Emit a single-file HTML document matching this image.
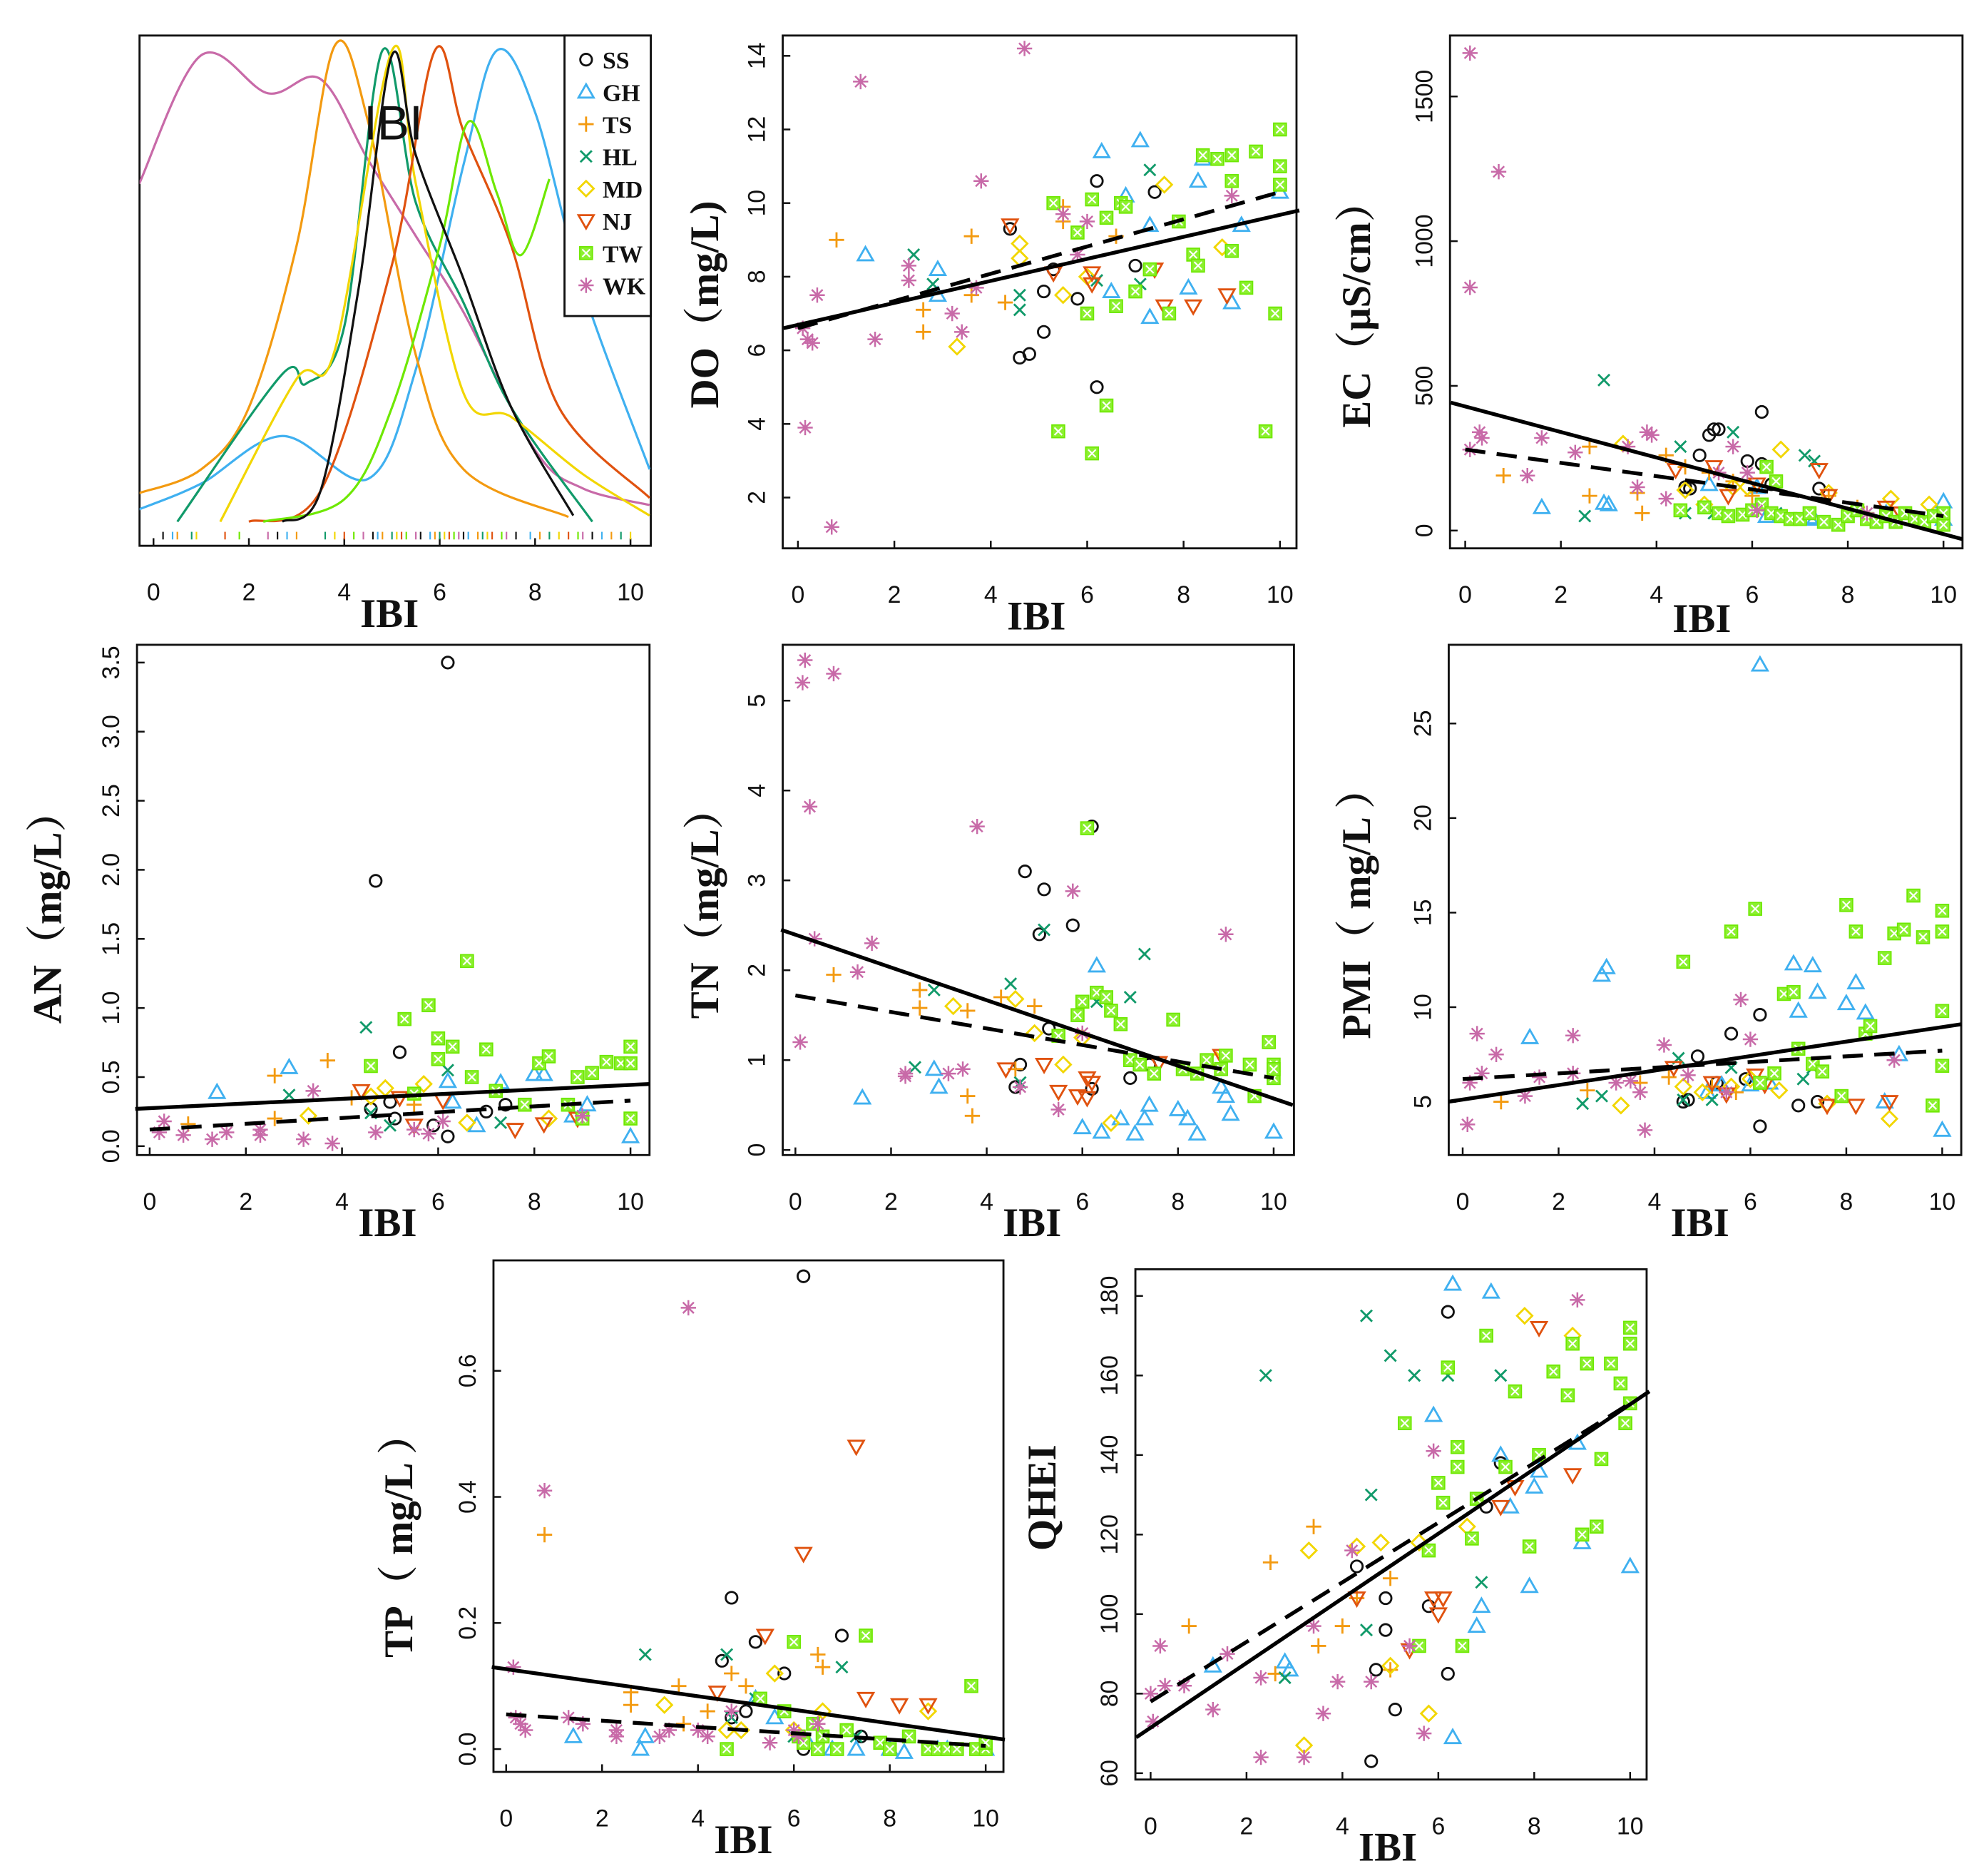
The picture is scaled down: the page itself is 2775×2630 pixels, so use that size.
<!DOCTYPE html>
<html><head><meta charset="utf-8"><style>
html,body{margin:0;padding:0;background:#fff;}
svg{display:block;}
.tk{font-family:"Liberation Sans",sans-serif;font-size:19px;fill:#111;}
.ti{font-family:"Liberation Serif","Noto Serif CJK SC",serif;font-weight:bold;font-size:32px;fill:#111;}
.lg{font-family:"Liberation Serif",serif;font-weight:bold;font-size:19px;fill:#111;}
</style></head><body>
<svg id="root" width="2775" height="2630" viewBox="0 0 1560 1478" preserveAspectRatio="none" xmlns="http://www.w3.org/2000/svg"></svg>
<script>
// ---------- data ----------
const groups = ['SS','GH','TS','HL','MD','NJ','TW','WK'];
const groupColors = ['#111111','#3fb0f0','#f39a10','#119a6a','#f2d600','#e0520f','#6ee800','#c86aa8'];
// density curves: [IBI, density 0..1]
const densSS = [[2.7,0],[3.5,0.064],[4.3,0.49],[5.0,0.98],[5.5,0.77],[6.5,0.51],[7.5,0.24],[8.8,0.013]];
const densGH = [[-0.3,0.026],[1,0.08],[2.7,0.18],[4.5,0.09],[5.5,0.32],[6.5,0.75],[7.2,0.99],[8,0.86],[9,0.49],[10.4,0.11]];
const densTS = [[-0.3,0.06],[1,0.11],[2,0.24],[3,0.58],[3.8,1.0],[4.5,0.84],[5.5,0.35],[6.5,0.11],[8.7,0.01]];
const densHL = [[0.5,0],[2.7,0.31],[3.2,0.29],[4,0.41],[4.8,0.99],[5.5,0.67],[6.5,0.46],[7.5,0.24],[9.2,0]];
const densMD = [[1.4,0],[3,0.30],[3.8,0.36],[5,0.99],[5.5,0.71],[6.5,0.27],[7.5,0.22],[9,0.10],[10.4,0.013]];
const densNJ = [[2,0],[3.5,0.064],[5,0.54],[5.9,0.99],[6.5,0.82],[7.5,0.58],[8.5,0.24],[10.4,0.05]];
const densTW = [[2.3,0],[4,0.047],[5,0.24],[6,0.58],[6.6,0.84],[7.2,0.69],[7.7,0.56],[8.3,0.72]];
const densWK = [[-0.3,0.71],[1,0.98],[2.4,0.90],[3.5,0.93],[4.5,0.76],[5.5,0.60],[6.5,0.44],[8,0.15],[9,0.07],[10.4,0.035]];
const rugX = [0.2,0.4,0.5,0.8,0.9,1.5,1.8,2.4,2.6,2.8,3.0,3.6,3.8,4.0,4.2,4.4,4.6,4.7,4.8,5.0,5.1,5.2,5.3,5.5,5.6,5.8,5.9,6.0,6.1,6.2,6.3,6.4,6.5,6.6,6.8,6.9,7.0,7.1,7.3,7.4,7.6,7.9,8.1,8.3,8.5,8.7,8.9,9.0,9.2,9.4,9.6,9.8,10];
const xTicks = [0,2,4,6,8,10];

// scatter data: [IBI, value]
const DO_SS=[[4.4,9.3],[4.6,5.8],[4.8,5.9],[5.1,7.6],[5.1,6.5],[5.3,8.2],[5.8,7.4],[6.2,10.6],[6.2,5.0],[7.0,8.3],[7.4,10.3]];
const DO_GH=[[1.4,8.6],[2.9,7.5],[2.9,8.2],[6.3,11.4],[6.8,10.2],[7.1,11.7],[7.3,9.4],[7.3,6.9],[8.1,7.7],[8.3,10.6],[8.4,11.2],[9.0,7.3],[9.2,9.4],[10,10.3],[6.5,7.6]];
const DO_TS=[[0.8,9.0],[2.6,6.5],[2.6,7.1],[3.6,9.1],[3.6,7.5],[4.3,7.3],[5.5,9.5],[5.5,9.9],[6.6,9.1]];
const DO_HL=[[2.4,8.6],[2.8,7.8],[4.6,7.5],[4.6,7.1],[6.2,7.9],[7.3,10.9],[6.8,9.9],[7.1,7.8]];
const DO_MD=[[3.3,6.1],[4.6,8.9],[4.6,8.5],[5.5,7.5],[6.0,8.0],[7.6,10.5],[8.8,8.8]];
const DO_NJ=[[4.4,9.4],[5.3,8.1],[6.1,7.8],[7.4,8.2],[7.6,7.2],[8.2,7.2],[8.9,7.5],[6.1,8.1]];
const DO_TW=[[5.3,10.0],[5.8,9.2],[6.0,7.0],[6.1,10.1],[6.4,9.6],[6.7,10.0],[6.8,9.9],[7.0,7.6],[7.3,8.2],[7.7,7.0],[7.9,9.5],[8.2,8.6],[8.3,8.3],[8.4,11.3],[8.7,11.2],[9.0,11.3],[9.0,8.7],[9.3,7.7],[9.5,11.4],[9.7,3.8],[9.9,7.0],[10,11.0],[10,12.0],[10,10.5],[5.4,3.8],[6.1,3.2],[6.4,4.5],[6.6,7.2],[9.0,10.6]];
const DO_WK=[[0.1,6.6],[0.15,3.9],[0.2,6.3],[0.3,6.2],[0.4,7.5],[0.7,1.2],[1.3,13.3],[1.6,6.3],[2.3,8.3],[2.3,7.9],[3.2,7.0],[3.4,6.5],[3.8,10.6],[4.7,14.2],[5.5,9.7],[5.8,8.6],[6.0,9.5],[9.0,10.2],[3.7,7.7]];
const DO_fit=[[-0.3,6.6],[10.4,9.8]], DO_fit2=[[0,6.6],[10,10.3]];

const EC_SS=[[4.6,150],[4.7,145],[4.9,260],[5.1,330],[5.2,350],[5.3,350],[5.9,240],[6.2,230],[6.2,410],[6.4,160],[7.4,145]];
const EC_GH=[[1.6,80],[2.9,95],[3.0,90],[5.1,160],[6.1,150],[6.3,50],[7.2,45],[7.3,40],[8.8,60],[10,100],[10,40]];
const EC_TS=[[0.8,190],[2.6,120],[2.6,290],[3.6,130],[3.7,60],[4.2,260],[4.6,220],[5.1,200],[5.6,170],[6.0,120],[7.6,120],[8.2,80]];
const EC_HL=[[2.5,50],[2.9,520],[4.5,290],[4.6,60],[5.2,60],[5.6,340],[7.1,260],[7.3,240],[6.5,60]];
const EC_MD=[[3.3,300],[4.6,140],[5.0,90],[5.6,150],[5.9,150],[6.6,280],[7.6,130],[8.9,110],[9.7,90]];
const EC_NJ=[[4.4,210],[5.2,220],[5.5,120],[6.1,160],[7.4,210],[7.6,120],[8.8,80],[9.1,60]];
const EC_TW=[[4.5,70],[5.0,80],[5.3,60],[5.5,50],[5.8,55],[6.0,70],[6.2,90],[6.4,60],[6.6,50],[6.8,40],[7.0,40],[7.2,60],[7.5,30],[7.8,20],[8.0,50],[8.2,70],[8.4,40],[8.6,30],[8.8,50],[9.0,30],[9.2,60],[9.4,40],[9.6,30],[9.8,50],[10,20],[10,60],[6.3,220],[6.5,170]];
const EC_WK=[[0.1,1650],[0.1,840],[0.1,280],[0.3,340],[0.35,320],[0.7,1240],[1.3,190],[1.6,320],[2.3,270],[3.4,290],[3.6,150],[3.8,340],[3.9,330],[4.2,110],[5.3,200],[5.6,290],[5.9,200],[6.1,70],[8.4,60]];
const EC_fit=[[-0.3,442],[10.4,-30]], EC_fit2=[[0,280],[10,50]];

const AN_SS=[[4.6,0.27],[4.7,1.92],[5.0,0.32],[5.1,0.2],[5.2,0.68],[5.9,0.15],[6.2,3.5],[6.2,0.07],[7.0,0.25],[7.4,0.3]];
const AN_GH=[[1.4,0.39],[2.9,0.57],[6.2,0.47],[6.8,0.15],[7.3,0.46],[8.0,0.52],[8.2,0.52],[8.8,0.22],[9.1,0.3],[10,0.07],[6.3,0.32]];
const AN_TS=[[0.8,0.16],[2.6,0.51],[2.6,0.2],[3.7,0.62],[4.2,0.35],[5.5,0.3]];
const AN_HL=[[2.9,0.37],[4.5,0.86],[4.6,0.24],[5.0,0.15],[6.2,0.55],[7.3,0.17]];
const AN_MD=[[3.3,0.22],[4.6,0.36],[4.9,0.42],[5.7,0.45],[6.6,0.17],[8.3,0.2]];
const AN_NJ=[[4.4,0.4],[5.2,0.35],[5.5,0.15],[6.1,0.33],[7.6,0.12],[8.2,0.16],[8.9,0.2]];
const AN_TW=[[4.6,0.58],[5.3,0.92],[5.8,1.02],[6.0,0.78],[6.0,0.63],[6.3,0.72],[6.6,1.34],[6.7,0.5],[7.0,0.7],[7.2,0.4],[7.8,0.3],[8.1,0.6],[8.3,0.65],[8.7,0.3],[8.9,0.5],[9.0,0.2],[9.2,0.53],[9.5,0.61],[9.8,0.6],[10,0.72],[10,0.2],[10,0.6],[5.5,0.38]];
const AN_WK=[[0.2,0.1],[0.3,0.18],[0.7,0.08],[1.3,0.05],[1.6,0.1],[2.3,0.12],[2.3,0.08],[3.2,0.05],[3.4,0.4],[3.8,0.02],[4.7,0.1],[5.5,0.12],[5.8,0.09],[6.1,0.18],[9.0,0.22]];
const AN_fit=[[-0.3,0.27],[10.4,0.45]], AN_fit2=[[0,0.12],[10,0.33]];

const TN_SS=[[4.6,0.7],[4.7,0.95],[4.8,3.1],[5.1,2.4],[5.2,2.9],[5.3,1.35],[5.8,2.5],[6.2,3.6],[6.2,0.68],[7.0,0.8],[7.4,0.95]];
const TN_GH=[[1.4,0.58],[2.9,0.9],[3.0,0.7],[6.0,0.25],[6.3,2.05],[6.4,0.2],[6.8,0.35],[7.1,0.18],[7.3,0.35],[7.4,0.5],[8.0,0.45],[8.2,0.35],[8.4,0.18],[8.9,0.7],[9.1,0.4],[10,0.2],[9.0,0.6]];
const TN_TS=[[0.8,1.95],[2.6,1.78],[2.6,1.58],[3.6,1.55],[3.6,0.6],[3.7,0.38],[4.3,1.7],[5.0,1.6],[4.6,0.9]];
const TN_HL=[[2.5,0.92],[2.9,1.78],[4.5,1.85],[4.7,0.75],[5.2,2.45],[6.3,1.65],[7.0,1.7],[7.3,2.18]];
const TN_MD=[[3.3,1.6],[4.6,1.68],[5.0,1.3],[5.6,0.95],[6.0,1.25],[6.6,0.3],[8.8,1.0]];
const TN_NJ=[[4.4,0.9],[5.2,0.95],[5.5,0.65],[5.9,0.6],[6.1,0.8],[6.1,0.58],[7.6,0.97],[8.9,1.05],[6.2,0.75]];
const TN_TW=[[5.5,1.27],[5.9,1.5],[6.0,1.65],[6.1,3.58],[6.3,1.75],[6.5,1.7],[6.6,1.55],[6.8,1.4],[7.0,1.0],[7.2,0.95],[7.5,0.85],[7.9,1.45],[8.1,0.9],[8.4,0.85],[8.6,1.0],[8.9,0.9],[9.0,1.05],[9.5,0.95],[9.6,0.6],[9.9,1.2],[10,0.8],[10,0.95],[10,0.9]];
const TN_WK=[[0.1,1.2],[0.15,5.2],[0.2,5.45],[0.3,3.82],[0.4,2.35],[0.8,5.3],[1.3,1.98],[1.6,2.3],[2.3,0.85],[2.3,0.82],[3.2,0.85],[3.5,0.9],[3.8,3.6],[4.7,0.7],[5.5,0.45],[5.8,2.88],[6.0,1.3],[9.0,2.4]];
const TN_fit=[[-0.3,2.45],[10.4,0.5]], TN_fit2=[[0,1.72],[10,0.8]];

const PMI_SS=[[4.6,5.0],[4.7,5.1],[4.9,7.4],[5.3,6.0],[5.6,8.6],[5.9,6.2],[6.2,9.6],[6.2,3.7],[7.0,4.8],[7.4,5.0]];
const PMI_GH=[[1.4,8.4],[2.9,11.7],[3.0,12.1],[5.1,5.5],[5.4,5.9],[6.0,5.9],[6.9,12.3],[7.0,9.8],[7.3,12.2],[7.4,10.8],[8.0,10.2],[8.2,11.3],[8.4,9.7],[8.8,5.0],[9.1,7.5],[10,3.5],[6.4,6.0],[6.2,28.1]];
const PMI_TS=[[0.8,5.0],[2.6,5.6],[3.7,6.0],[4.3,6.3],[5.2,5.8],[5.7,5.5],[7.4,6.7]];
const PMI_HL=[[2.5,4.9],[2.9,5.3],[4.5,7.3],[4.6,5.1],[5.2,5.1],[5.6,6.8],[7.1,6.2],[7.3,6.8]];
const PMI_MD=[[3.3,4.8],[4.6,5.8],[5.0,5.5],[5.6,5.8],[6.6,5.6],[7.6,4.9],[8.9,4.1],[6.0,6.2]];
const PMI_NJ=[[4.4,6.8],[5.2,6.0],[5.5,5.4],[6.1,6.4],[6.3,5.9],[7.6,4.8],[8.2,4.8],[8.9,5.0]];
const PMI_TW=[[4.6,12.4],[5.6,14.0],[6.1,15.2],[6.2,6.0],[6.5,6.5],[6.7,10.7],[6.9,10.8],[7.0,7.8],[7.3,7.0],[7.5,6.6],[7.9,5.3],[8.0,15.4],[8.2,14.0],[8.4,8.6],[8.5,9.0],[8.8,12.6],[9.0,13.9],[9.2,14.1],[9.4,15.9],[9.6,13.7],[9.8,4.8],[10,14.0],[10,15.1],[10,9.8],[10,6.9]];
const PMI_WK=[[0.1,3.8],[0.15,6.0],[0.3,8.6],[0.4,6.5],[0.7,7.5],[1.3,5.3],[1.6,6.3],[2.3,8.5],[2.3,6.5],[3.2,6.0],[3.5,6.1],[3.8,3.5],[4.2,8.0],[4.7,6.4],[5.5,5.5],[5.8,10.4],[6.0,8.3],[9.0,7.2],[3.7,5.5]];
const PMI_fit=[[-0.3,5.0],[10.4,9.1]], PMI_fit2=[[0,6.2],[10,7.7]];

const TP_SS=[[4.5,0.14],[4.7,0.24],[5.0,0.06],[5.2,0.17],[5.8,0.12],[6.2,0.75],[6.2,0.0],[7.0,0.18],[7.4,0.02],[4.7,0.05]];
const TP_GH=[[1.4,0.02],[2.9,0.02],[2.8,0.0],[5.2,0.08],[5.6,0.05],[6.3,0.01],[6.8,0.0],[7.3,0.0],[8.0,0.0],[8.3,-0.005],[9.0,0.0],[10,0.0],[9.2,0.0]];
const TP_TS=[[0.8,0.34],[2.6,0.09],[2.6,0.07],[3.6,0.1],[3.7,0.04],[4.2,0.06],[4.7,0.12],[5.0,0.1],[6.5,0.15],[6.6,0.13]];
const TP_HL=[[2.9,0.15],[4.6,0.15],[4.7,0.05],[5.2,0.08],[6.0,0.02],[7.0,0.13],[7.3,0.02]];
const TP_MD=[[3.3,0.07],[4.6,0.03],[4.9,0.03],[5.6,0.12],[6.0,0.03],[6.6,0.06],[8.8,0.06]];
const TP_NJ=[[4.4,0.09],[5.4,0.18],[6.2,0.31],[7.3,0.48],[7.5,0.08],[8.2,0.07],[8.8,0.07]];
const TP_TW=[[4.6,0.0],[5.3,0.08],[5.8,0.06],[6.0,0.17],[6.1,0.02],[6.2,0.01],[6.4,0.04],[6.6,0.02],[6.9,0.0],[7.1,0.03],[7.5,0.18],[7.8,0.01],[8.0,0.0],[8.4,0.02],[8.8,0.0],[9.0,0.0],[9.2,0.0],[9.4,0.0],[9.7,0.1],[9.8,0.0],[10,0.0],[10,0.01],[6.5,0.0]];
const TP_WK=[[0.15,0.13],[0.2,0.05],[0.3,0.04],[0.4,0.03],[0.8,0.41],[1.3,0.05],[1.6,0.04],[2.3,0.03],[2.3,0.02],[3.2,0.02],[3.4,0.03],[3.8,0.7],[4.0,0.03],[4.2,0.02],[4.7,0.06],[5.5,0.01],[6.0,0.03],[6.1,0.02],[6.5,0.04]];
const TP_fit=[[-0.3,0.13],[10.4,0.015]], TP_fit2=[[0,0.055],[10,0.005]];

const QH_SS=[[4.3,112],[4.6,63],[4.7,86],[4.9,104],[4.9,96],[5.1,76],[5.8,102],[6.2,85],[6.2,176],[7.0,127],[7.3,138]];
const QH_GH=[[1.3,87],[2.8,88],[2.9,86],[5.9,150],[6.3,183],[6.3,69],[6.8,97],[6.9,102],[7.1,181],[7.3,140],[7.5,127],[7.9,107],[8.0,132],[8.1,136],[8.9,143],[9.0,118],[10,112]];
const QH_TS=[[0.8,97],[2.5,113],[2.6,85],[3.4,122],[3.5,92],[4.0,97],[4.3,104],[5.0,86],[5.0,109]];
const QH_HL=[[2.4,160],[2.8,84],[4.5,175],[4.6,130],[4.5,96],[5.0,165],[5.5,160],[6.2,160],[6.9,108],[7.3,160]];
const QH_MD=[[3.2,67],[3.3,116],[4.3,117],[4.8,118],[5.0,87],[5.6,118],[5.8,75],[6.6,122],[7.8,175],[8.8,170]];
const QH_NJ=[[4.3,104],[5.4,91],[5.9,104],[6.0,100],[6.1,104],[7.3,127],[7.6,132],[8.1,172],[8.8,135]];
const QH_TW=[[5.3,148],[5.8,116],[6.0,133],[6.1,128],[6.2,162],[6.4,137],[6.4,142],[6.7,119],[6.8,129],[7.0,170],[7.4,137],[7.6,156],[7.9,117],[8.1,140],[8.4,161],[8.7,155],[8.8,168],[9.0,120],[9.1,163],[9.3,122],[9.4,139],[9.6,163],[9.8,158],[10,153],[10,168],[10,172],[9.9,148],[6.5,92],[5.6,92]];
const QH_WK=[[0.0,80],[0.05,73],[0.2,92],[0.3,82],[0.7,82],[1.3,76],[1.6,90],[2.3,84],[2.3,64],[3.2,64],[3.4,97],[3.6,75],[3.9,83],[4.2,116],[4.6,83],[5.4,92],[5.7,70],[5.9,141],[8.9,179]];
const QH_fit=[[-0.3,69],[10.4,156]], QH_fit2=[[0,78],[10,153]];

// ---------- drawing ----------
const NS='http://www.w3.org/2000/svg';
const root=document.getElementById('root');
function el(tag,attrs,parent){const e=document.createElementNS(NS,tag);for(const k in attrs)e.setAttribute(k,attrs[k]);(parent||root).appendChild(e);return e;}

function marker(g,gi,px,py,parent){
  const c=groupColors[gi];const r=5.2;let m;
  const sw=1.6;
  if(gi===0){m=el('circle',{cx:px,cy:py,r:4.6,fill:'none',stroke:c,'stroke-width':sw},parent);}
  else if(gi===1){m=el('polygon',{points:`${px},${py-6} ${px-6},${py+4.5} ${px+6},${py+4.5}`,fill:'none',stroke:c,'stroke-width':sw},parent);}
  else if(gi===2){m=el('path',{d:`M${px-6} ${py}H${px+6}M${px} ${py-6}V${py+6}`,stroke:c,'stroke-width':sw,fill:'none'},parent);}
  else if(gi===3){m=el('path',{d:`M${px-4.5} ${py-4.5}L${px+4.5} ${py+4.5}M${px+4.5} ${py-4.5}L${px-4.5} ${py+4.5}`,stroke:c,'stroke-width':sw,fill:'none'},parent);}
  else if(gi===4){m=el('polygon',{points:`${px},${py-6} ${px+6},${py} ${px},${py+6} ${px-6},${py}`,fill:'none',stroke:c,'stroke-width':sw},parent);}
  else if(gi===5){m=el('polygon',{points:`${px},${py+6} ${px-6},${py-4.5} ${px+6},${py-4.5}`,fill:'none',stroke:c,'stroke-width':sw},parent);}
  else if(gi===6){m=el('g',{},parent);
    el('rect',{x:px-5,y:py-5,width:10,height:10,fill:'#8cf030',stroke:'#6ee800','stroke-width':1},m);
    el('path',{d:`M${px-3} ${py-3}L${px+3} ${py+3}M${px+3} ${py-3}L${px-3} ${py+3}`,stroke:'#fff','stroke-width':1.2},m);}
  else {m=el('path',{d:`M${px-6} ${py}H${px+6}M${px} ${py-6}V${py+6}M${px-4.3} ${py-4.3}L${px+4.3} ${py+4.3}M${px+4.3} ${py-4.3}L${px-4.3} ${py+4.3}`,stroke:c,'stroke-width':1.4,fill:'none'},parent);}
  return m;
}

function frameAndXAxis(name,f,sx,xTitleY){
  const g=el('g',{});
  
  
  el('rect',{x:f[0],y:f[1],width:f[2]-f[0],height:f[3]-f[1],fill:'none',stroke:'#111','stroke-width':1.6},g);
  const xa=el('g',{},g);
  
  
  xTicks.forEach(t=>{
    const x=sx(t);
    el('line',{x1:x,y1:f[3],x2:x,y2:f[3]-6,stroke:'#111','stroke-width':1.4},xa);
    const tx=el('text',{x:x,y:f[3]+43,'text-anchor':'middle',class:'tk'},xa);tx.textContent=t;
  });
  const xt=el('text',{x:sx(5)-2,y:f[3]+(xTitleY||64),'text-anchor':'middle',class:'ti'},g);
  
  
  xt.textContent='IBI';
  return g;
}

function scatterPanel(p){
  const f=p.frame;
  const sx=v=>p.x0+(v)*(p.x10-p.x0)/10;
  const sy=v=>p.py0+(v-p.v0)*(p.py1-p.py0)/(p.v1-p.v0);
  const g=frameAndXAxis(p.name,f,sx,p.xTitleOff);
  const ya=el('g',{},g);
  
  
  p.yticks.forEach(t=>{
    const y=sy(t);
    el('line',{x1:f[0],y1:y,x2:f[0]+6,y2:y,stroke:'#111','stroke-width':1.4},ya);
    const tx=el('text',{x:0,y:0,'text-anchor':'middle',class:'tk',transform:`translate(${f[0]-14},${y}) rotate(-90)`},ya);
    tx.textContent=p.ytickLabels?p.ytickLabels[p.yticks.indexOf(t)]:t;
  });
  const yt=el('text',{x:0,y:0,'text-anchor':'middle',class:'ti',transform:`translate(${p.titleX},${p.titleY}) rotate(-90)`},g);
  
  
  yt.textContent=p.title;
  const pts=el('g',{},g);
  
  
  p.data.forEach((arr,gi)=>{
    arr.forEach(d=>{
      const m=marker(null,gi,sx(d[0]),sy(d[1]),pts);
      
      
    });
  });
  const l1=el('line',{x1:sx(p.fit[0][0]),y1:sy(p.fit[0][1]),x2:sx(p.fit[1][0]),y2:sy(p.fit[1][1]),stroke:'#000','stroke-width':3},g);
  
  
  const l2=el('line',{x1:sx(p.fit2[0][0]),y1:sy(p.fit2[0][1]),x2:sx(p.fit2[1][0]),y2:sy(p.fit2[1][1]),stroke:'#000','stroke-width':3,'stroke-dasharray':'16 9'},g);
  
  
}

// density panel
(function(){
  const f=[110,28,513,430];
  const sx=v=>121+v*(497-121)/10;
  const sy=v=>411-v*(411-36);
  const g=frameAndXAxis('density',f,sx,64);
  const curves=[densSS,densGH,densTS,densHL,densMD,densNJ,densTW,densWK];
  const clip=el('clipPath',{id:'dclip'});
  el('rect',{x:f[0],y:f[1],width:f[2]-f[0],height:f[3]-f[1]},clip);
  const cg=el('g',{'clip-path':'url(#dclip)'},g);
  const order=[7,1,2,3,4,5,6,0];
  order.forEach(gi=>{
    const pts=curves[gi].map(d=>[sx(d[0]),sy(d[1])]);
    let d=`M${pts[0][0]} ${pts[0][1]}`;
    for(let i=0;i<pts.length-1;i++){
      const p0=pts[Math.max(0,i-1)],p1=pts[i],p2=pts[i+1],p3=pts[Math.min(pts.length-1,i+2)];
      const c1=[p1[0]+(p2[0]-p0[0])/6,p1[1]+(p2[1]-p0[1])/6];
      const c2=[p2[0]-(p3[0]-p1[0])/6,p2[1]-(p3[1]-p1[1])/6];
      d+=` C${c1[0]} ${c1[1]} ${c2[0]} ${c2[1]} ${p2[0]} ${p2[1]}`;
    }
    const path=el('path',{d:d,fill:'none',stroke:groupColors[gi],'stroke-width':1.8},cg);
    
    
  });
  const rug=el('g',{},g);
  
  
  rugX.forEach((v,i)=>{el('line',{x1:sx(v),y1:419,x2:sx(v),y2:425,stroke:groupColors[i%8],'stroke-width':1.2},rug);});
  const ibi=el('text',{x:310,y:110,'text-anchor':'middle','font-family':'Liberation Sans, sans-serif','font-size':38,fill:'#111'},g);
  
  
  ibi.textContent='IBI';
  const lg=el('g',{},g);
  
  
  el('rect',{x:445,y:28,width:68,height:221,fill:'#fff',stroke:'#111','stroke-width':1.6},lg);
  groups.forEach((gname,gi)=>{
    const y=47+gi*25.4;
    const e=el('g',{},lg);
    
    
    marker(null,gi,462,y,e);
    const t=el('text',{x:475,y:y+7,class:'lg'},e);t.textContent=gname;
  });
})();

scatterPanel({name:'do',frame:[617,28,1022,432],x0:629,x10:1009,v0:2,v1:14,py0:392,py1:44,yticks:[2,4,6,8,10,12,14],title:'DO（mg/L)',titleX:566,titleY:240,
  data:[DO_SS,DO_GH,DO_TS,DO_HL,DO_MD,DO_NJ,DO_TW,DO_WK],fit:DO_fit,fit2:DO_fit2});
scatterPanel({name:'ec',frame:[1143,28,1547,432],x0:1155,x10:1532,v0:0,v1:1500,py0:418,py1:76,yticks:[0,500,1000,1500],title:'EC（μS/cm）',titleX:1080,titleY:240,
  data:[EC_SS,EC_GH,EC_TS,EC_HL,EC_MD,EC_NJ,EC_TW,EC_WK],fit:EC_fit,fit2:EC_fit2,xTitleOff:66});
scatterPanel({name:'an',frame:[108,508,512,910],x0:118,x10:497,v0:0,v1:3.5,py0:903,py1:522,yticks:[0,0.5,1,1.5,2,2.5,3,3.5],ytickLabels:['0.0','0.5','1.0','1.5','2.0','2.5','3.0','3.5'],title:'AN（mg/L）',titleX:48,titleY:715,
  data:[AN_SS,AN_GH,AN_TS,AN_HL,AN_MD,AN_NJ,AN_TW,AN_WK],fit:AN_fit,fit2:AN_fit2});
scatterPanel({name:'tn',frame:[617,508,1020,910],x0:627,x10:1004,v0:0,v1:5,py0:906,py1:552,yticks:[0,1,2,3,4,5],title:'TN（mg/L）',titleX:566,titleY:712,
  data:[TN_SS,TN_GH,TN_TS,TN_HL,TN_MD,TN_NJ,TN_TW,TN_WK],fit:TN_fit,fit2:TN_fit2});
scatterPanel({name:'pmi',frame:[1142,508,1546,910],x0:1153,x10:1531,v0:5,v1:25,py0:868,py1:570,yticks:[5,10,15,20,25],title:'PMI（ mg/L ）',titleX:1080,titleY:712,
  data:[PMI_SS,PMI_GH,PMI_TS,PMI_HL,PMI_MD,PMI_NJ,PMI_TW,PMI_WK],fit:PMI_fit,fit2:PMI_fit2});
scatterPanel({name:'tp',frame:[389,993,791,1396],x0:399,x10:777,v0:0,v1:0.6,py0:1378,py1:1080,yticks:[0,0.2,0.4,0.6],ytickLabels:['0.0','0.2','0.4','0.6'],title:'TP（ mg/L ）',titleX:325,titleY:1210,
  data:[TP_SS,TP_GH,TP_TS,TP_HL,TP_MD,TP_NJ,TP_TW,TP_WK],fit:TP_fit,fit2:TP_fit2});
scatterPanel({name:'qhei',frame:[895,1000,1298,1402],x0:907,x10:1285,v0:60,v1:180,py0:1397,py1:1021,yticks:[60,80,100,120,140,160,180],title:'QHEI',titleX:832,titleY:1180,
  data:[QH_SS,QH_GH,QH_TS,QH_HL,QH_MD,QH_NJ,QH_TW,QH_WK],fit:QH_fit,fit2:QH_fit2});
</script>
</body></html>
